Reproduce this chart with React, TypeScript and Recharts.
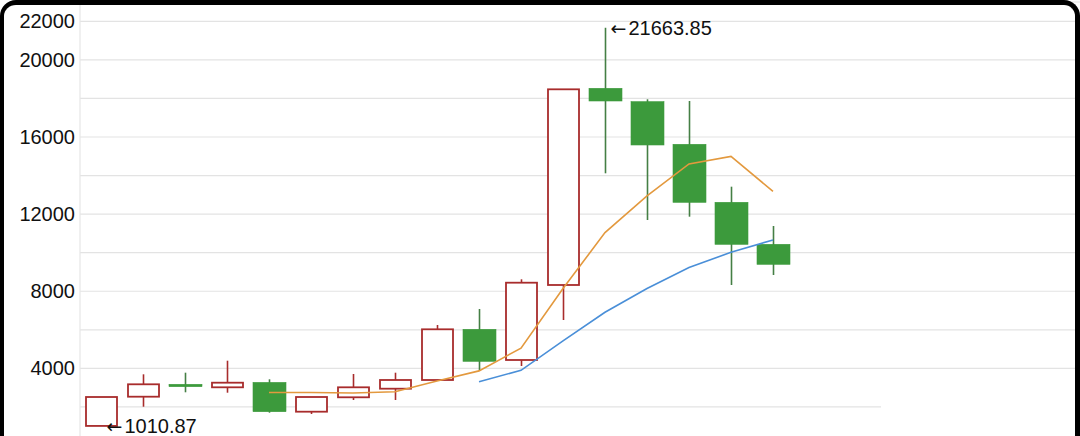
import React from 'react';
import { ComposedChart, Bar, Line, XAxis, YAxis, CartesianGrid } from 'recharts';

// ---- data ----
const periods = ['P01', 'P02', 'P03', 'P04', 'P05', 'P06', 'P07', 'P08', 'P09', 'P10', 'P11', 'P12', 'P13', 'P14', 'P15', 'P16', 'P17'];
const emptyPeriods = ['P18', 'P19', 'P20', 'P21', 'P22', 'P23', 'P24'];

const openValues = [1015, 2531, 3174, 3018, 3272, 1753, 2500, 2946, 3397, 6026, 4434, 8324, 18524, 17831, 15620, 12612, 10434];
const closeValues = [2515, 3174, 3050, 3257, 1753, 2515, 3018, 3397, 6026, 4366, 8443, 18472, 17866, 15584, 12612, 10434, 9397];
const highValues = [2520, 3692, 3776, 4398, 3433, 2540, 3708, 3776, 6249, 7079, 8619, 18490, 21663.85, 17955, 17866, 13422, 11383];
const lowValues = [1010.87, 2012, 2759, 2738, 1701, 1634, 2360, 2360, 3380, 3879, 4123, 6508, 14116, 11694, 11866, 8324, 8842];

const ma5Values = [null, null, null, null, 2750, 2750, 2720, 2790, 3340, 3870, 5050, 8140, 11040, 12950, 14600, 14990, 13180];
const ma10Values = [null, null, null, null, null, null, null, null, null, 3307, 3900, 5430, 6910, 8144, 9230, 10020, 10660];

const yTicks = [2000, 4000, 6000, 8000, 10000, 12000, 14000, 16000, 18000, 20000, 22000];
const yLabelTicks = [4000, 8000, 12000, 16000, 20000, 22000];

// ---- styles ----
const UP_COLOR = '#a82c2c';
const DOWN_FILL = '#3c9a3c';
const DOWN_WICK = '#457f45';
const MA5_COLOR = '#e3993e';
const MA10_COLOR = '#4a8fd8';
const FONT = '"Liberation Sans", Arial, "DejaVu Sans", sans-serif';
const ARROW_FONT = '"DejaVu Sans", sans-serif';

const rows = [
  ...periods.map((p, i) => ({
    period: p,
    open: openValues[i],
    close: closeValues[i],
    high: highValues[i],
    low: lowValues[i],
    ma5: ma5Values[i],
    ma10: ma10Values[i],
  })),
  ...emptyPeriods.map((p) => ({ period: p, open: null, close: null, high: null, low: null, ma5: null, ma10: null })),
];

const maxHigh = Math.max(...highValues);
const minLow = Math.min(...lowValues);

const PointLabel = ({ x, y, value }: { x: number; y: number; value: number }) => (
  <text x={x} y={y} dominantBaseline="central" fontSize={20} fontFamily={FONT} fill="#111">
    <tspan fontFamily={ARROW_FONT} fontSize={19}>{'\u2190'}</tspan>
    <tspan dx={2}>{String(value)}</tspan>
  </text>
);

const Candle = (props: any) => {
  const { x, y, width, height, payload } = props;
  if (!payload || payload.open == null || x == null || y == null) return <g />;
  const top = Math.min(y, y + height);
  const bottom = Math.max(y, y + height);
  const span = payload.high - payload.low;
  const yOf = (v: number) => (span === 0 ? top : top + ((payload.high - v) / span) * (bottom - top));
  const cx = x + width / 2;
  const yOpen = yOf(payload.open);
  const yClose = yOf(payload.close);
  const boxTop = Math.min(yOpen, yClose);
  const boxBottom = Math.max(yOpen, yClose);
  const up = payload.close >= payload.open;
  const labels: React.ReactNode[] = [];
  if (payload.high === maxHigh) labels.push(<PointLabel key="hi" x={cx + 5} y={top} value={payload.high} />);
  if (payload.low === minLow) labels.push(<PointLabel key="lo" x={cx + 5} y={bottom} value={payload.low} />);
  if (up) {
    return (
      <g>
        {boxTop - top > 0.5 && <line x1={cx} x2={cx} y1={top} y2={boxTop} stroke={UP_COLOR} strokeWidth={1.6} />}
        {bottom - boxBottom > 0.5 && <line x1={cx} x2={cx} y1={boxBottom} y2={bottom} stroke={UP_COLOR} strokeWidth={1.6} />}
        <rect
          x={x + 1}
          y={boxTop}
          width={width - 2}
          height={Math.max(boxBottom - boxTop, 1)}
          fill="#fff"
          stroke={UP_COLOR}
          strokeWidth={1.8}
        />
        {labels}
      </g>
    );
  }
  return (
    <g>
      <line x1={cx} x2={cx} y1={top} y2={bottom} stroke={DOWN_WICK} strokeWidth={1.6} />
      <rect x={x} y={boxTop} width={width} height={Math.max(boxBottom - boxTop, 2)} fill={DOWN_FILL} stroke={DOWN_FILL} strokeWidth={0.6} />
      {labels}
    </g>
  );
};

const YTick = (props: any) => {
  const { x, y, payload } = props;
  if (!yLabelTicks.includes(payload.value)) return <g />;
  return (
    <text x={x} y={y} textAnchor="end" dominantBaseline="central" fontSize={20} fontFamily={FONT} fill="#111">
      {payload.value}
    </text>
  );
};

export default function App() {
  return (
    <div
      style={{
        position: 'fixed',
        left: 0,
        top: 0,
        width: 1080,
        height: 436,
        overflow: 'hidden',
        background: '#fff',
      }}
    >
      <div style={{ position: 'absolute', left: 0, top: 0 }}>
        <ComposedChart
          width={1088}
          height={445.5}
          data={rows}
          margin={{ top: 2, right: 0, bottom: 0, left: 0 }}
        >
          <CartesianGrid vertical={false} stroke="#e3e3e3" strokeWidth={1.2} />
          <XAxis dataKey="period" hide />
          <YAxis
            width={80}
            domain={[0, 23000]}
            ticks={yTicks}
            interval={0}
            tickLine={false}
            tickSize={0}
            tickMargin={5}
            axisLine={{ stroke: '#e6e6e6', strokeWidth: 1.2 }}
            tick={<YTick />}
          />
          <Bar
            dataKey={(d: any) => (d.low == null ? null : [d.low, d.high])}
            barSize={33}
            shape={<Candle />}
            isAnimationActive={false}
          />
          <Line
            type="linear"
            dataKey="ma5"
            stroke={MA5_COLOR}
            strokeWidth={1.6}
            dot={false}
            activeDot={false}
            isAnimationActive={false}
          />
          <Line
            type="linear"
            dataKey="ma10"
            stroke={MA10_COLOR}
            strokeWidth={1.6}
            dot={false}
            activeDot={false}
            isAnimationActive={false}
          />
        </ComposedChart>
      </div>
      <div style={{ position: 'absolute', left: 881, top: 399, width: 200, height: 40, background: '#fff' }} />
      <div
        style={{
          position: 'absolute',
          left: 0,
          top: 0,
          width: 1080,
          height: 470,
          boxSizing: 'border-box',
          borderTop: '5px solid #000',
          borderLeft: '4px solid #000',
          borderRight: '5px solid #000',
          borderTopLeftRadius: 16,
          borderTopRightRadius: 16,
          pointerEvents: 'none',
        }}
      />
    </div>
  );
}
